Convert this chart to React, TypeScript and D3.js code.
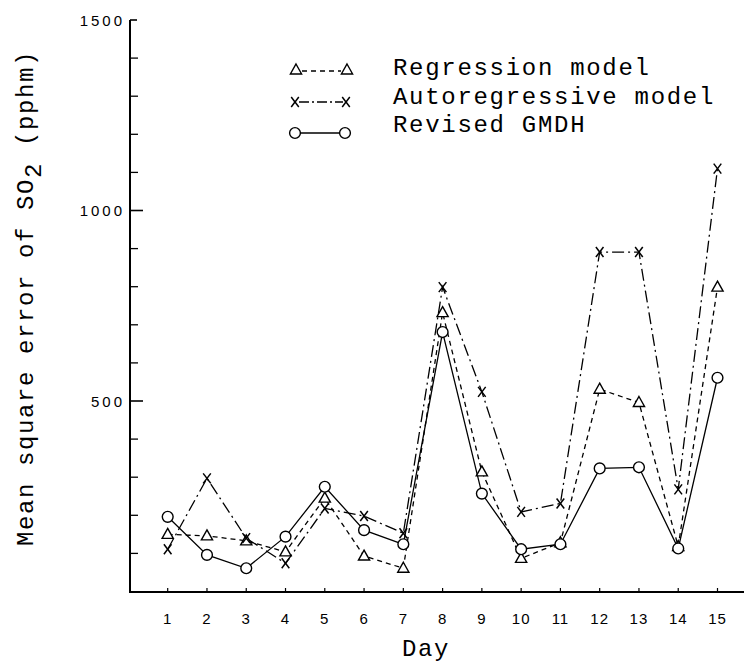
import React, { useEffect } from "react";
import * as d3 from "d3";

// Forecast error per day for three SO2 prediction models
const days = [1, 2, 3, 4, 5, 6, 7, 8, 9, 10, 11, 12, 13, 14, 15];
const regression = [150, 146, 133, 104, 245, 93, 61, 732, 314, 87, 128, 531, 496, 118, 799];
const autoregressive = [111, 297, 140, 74, 218, 198, 153, 799, 524, 209, 231, 891, 891, 268, 1110];
const gmdh = [196, 96, 61, 144, 275, 161, 124, 681, 257, 111, 124, 323, 326, 113, 561];

const yMajorTicks = [500, 1000, 1500];
const yMinorTicks = [100, 200, 300, 400, 600, 700, 800, 900, 1100, 1200, 1300, 1400];

const legendLabels = ["Regression model", "Autoregressive model", "Revised GMDH"];

const W = 744;
const H = 663;
const axisX = 130;
const axisY = 592;

const MONO = "'Liberation Mono', 'DejaVu Sans Mono', monospace";
const SANS = "'Liberation Sans', 'DejaVu Sans', sans-serif";

const x = d3.scaleLinear().domain([1, 15]).range([167.7, 717.5]);
const y = d3.scaleLinear().domain([0, 1500]).range([591.5, 20]);

const line = d3
  .line<number>()
  .x((_, i) => x(days[i]))
  .y((v) => y(v));

const trianglePath = "M0,-6 L5.6,4 L-5.6,4 Z";

function Triangle({ cx, cy }: { cx: number; cy: number }) {
  return (
    <path
      d={trianglePath}
      transform={`translate(${cx},${cy})`}
      fill="#fff"
      stroke="#000"
      strokeWidth={1.4}
    />
  );
}

function Cross({ cx, cy }: { cx: number; cy: number }) {
  return (
    <g transform={`translate(${cx},${cy})`} stroke="#000" strokeWidth={1.5}>
      <line x1={-3.8} y1={-5} x2={3.8} y2={5} />
      <line x1={3.8} y1={-5} x2={-3.8} y2={5} />
    </g>
  );
}

function Circle({ cx, cy }: { cx: number; cy: number }) {
  return <circle cx={cx} cy={cy} r={5.4} fill="#fff" stroke="#000" strokeWidth={1.4} />;
}

export default function App() {
  useEffect(() => {
    document.body.style.margin = "0";
  }, []);

  return (
    <svg width={W} height={H} style={{ display: "block", background: "#fff" }}>
      {/* axes */}
      <g stroke="#000" fill="none">
        <line x1={axisX} y1={y(1500)} x2={axisX} y2={axisY} strokeWidth={2} />
        <line x1={axisX - 1} y1={axisY} x2={W} y2={axisY} strokeWidth={2} />
        {yMajorTicks.map((t) => (
          <line
            key={`M${t}`}
            x1={axisX}
            x2={axisX + (t === 1500 ? 7 : 13)}
            y1={y(t)}
            y2={y(t)}
            strokeWidth={1.6}
          />
        ))}
        {yMinorTicks.map((t) => (
          <line key={`m${t}`} x1={axisX} x2={axisX + 8} y1={y(t)} y2={y(t)} strokeWidth={1.3} />
        ))}
        {days.map((d) => (
          <line key={`d${d}`} x1={x(d)} x2={x(d)} y1={axisY} y2={axisY - 4} strokeWidth={1.2} />
        ))}
      </g>

      {/* tick labels */}
      <g fontFamily={SANS} fontSize={15} fill="#000" textAnchor="end" letterSpacing={3}>
        {yMajorTicks.map((t) => (
          <text key={t} x={axisX - 5} y={y(t) + 5.5}>
            {t}
          </text>
        ))}
      </g>
      <g fontFamily={SANS} fontSize={15} fill="#000" textAnchor="middle" letterSpacing={1}>
        {days.map((d) => (
          <text key={d} x={x(d)} y={624}>
            {d}
          </text>
        ))}
      </g>

      {/* axis titles */}
      <text
        x={426}
        y={656}
        fontFamily={MONO}
        fontSize={24}
        letterSpacing={1.6}
        textAnchor="middle"
        fill="#000"
      >
        Day
      </text>
      <text
        transform="translate(33,298) rotate(-90)"
        fontFamily={MONO}
        fontSize={24}
        letterSpacing={1.6}
        textAnchor="middle"
        fill="#000"
      >
        Mean square error of SO
        <tspan dy={8}>2</tspan>
        <tspan dy={-8}> (pphm)</tspan>
      </text>

      {/* series lines */}
      <g fill="none" stroke="#000" strokeWidth={1.3}>
        <path d={line(regression) ?? ""} strokeDasharray="5,4" />
        <path d={line(autoregressive) ?? ""} strokeDasharray="12,4,2,4" />
        <path d={line(gmdh) ?? ""} />
      </g>

      {/* markers */}
      {regression.map((v, i) => (
        <Triangle key={`t${i}`} cx={x(days[i])} cy={y(v)} />
      ))}
      {autoregressive.map((v, i) => (
        <Cross key={`x${i}`} cx={x(days[i])} cy={y(v)} />
      ))}
      {gmdh.map((v, i) => (
        <Circle key={`c${i}`} cx={x(days[i])} cy={y(v)} />
      ))}

      {/* legend */}
      <g>
        <line x1={302} x2={341} y1={71} y2={71} stroke="#000" strokeWidth={1.3} strokeDasharray="5,4" />
        <Triangle cx={296} cy={70} />
        <Triangle cx={347} cy={70} />
        <line x1={299} x2={343} y1={102} y2={102} stroke="#000" strokeWidth={1.3} strokeDasharray="10,3,2,3" />
        <Cross cx={295} cy={102} />
        <Cross cx={346} cy={102} />
        <line x1={300} x2={340} y1={133} y2={133} stroke="#000" strokeWidth={1.3} />
        <Circle cx={295} cy={133} />
        <Circle cx={345} cy={133} />
        <g fontFamily={MONO} fontSize={24} letterSpacing={1.7} fill="#000">
          {legendLabels.map((l, i) => (
            <text key={l} x={393} y={75 + i * 28.5}>
              {l}
            </text>
          ))}
        </g>
      </g>
    </svg>
  );
}
